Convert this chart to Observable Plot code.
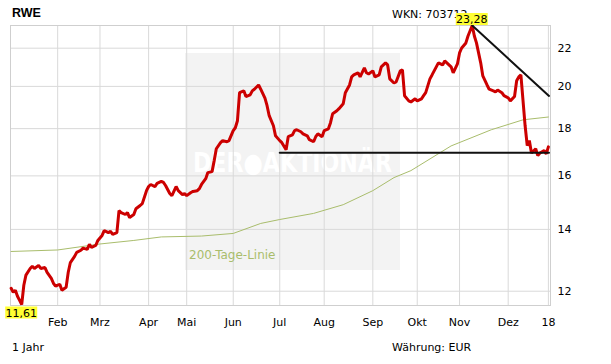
<!DOCTYPE html>
<html>
<head>
<meta charset="utf-8">
<script src="https://cdn.jsdelivr.net/npm/d3@7"></script>
<script src="https://cdn.jsdelivr.net/npm/@observablehq/plot@0.6"></script>
<style>
  body { margin: 0; background: #fff; }
  #wrap { position: relative; width: 611px; height: 364px; }
</style>
</head>
<body>
<div id="wrap"></div>
<script>
// ---- data (trading-day index since 2 Jan 2017) ----
const days = [0,1,2,3,4,5,6,7,9,10,11,13,14,16,17,19,20,21,23,24,26,27,28,30,31,33,34,36,37,38,40,41,43,44,46,47,48,50,51,52,54,55,56,58,59,61,62,64,65,66,68,69,71,72,73,75,76,78,79,81,82,83,85,86,88,89,90,92,93,95,96,97,99,100,102,103,105,106,107,108,110,111,113,114,115,117,118,120,121,122,124,125,127,128,130,131,133,134,135,137,138,140,141,143,144,145,147,148,150,151,152,154,155,157,158,160,161,162,164,165,167,168,169,171,172,174,175,177,178,179,181,182,184,185,186,188,189,191,192,194,195,196,198,199,201,202,204,205,206,208,209,211,212,213,215,216,218,219,220,222,223,225,226,228,229,230,232,233,235,236,238,239,240,241,243,244,245,246,248,249,250,252,253,254];
const closes = [12.09,11.97,12.03,11.85,11.73,11.61,12.18,12.49,12.70,12.77,12.70,12.80,12.70,12.73,12.58,12.39,12.24,12.15,12.21,12.03,12.12,12.58,12.89,13.09,13.22,13.29,13.36,13.32,13.49,13.39,13.45,13.62,13.79,13.96,13.89,13.93,13.83,13.89,14.67,14.60,14.53,14.60,14.42,14.53,14.74,14.86,14.93,15.42,15.58,15.66,15.58,15.70,15.78,15.74,15.62,15.31,15.23,15.58,15.42,15.27,15.31,15.23,15.35,15.39,15.42,15.50,15.66,15.89,16.13,16.17,16.62,17.12,17.38,17.47,17.42,17.47,17.91,18.04,18.36,19.69,19.78,19.50,19.58,19.78,19.86,20.07,19.86,19.42,19.06,18.59,18.13,17.68,17.47,17.38,17.08,17.64,17.72,17.91,17.95,17.86,17.77,17.68,17.51,17.42,17.64,17.77,17.64,17.91,17.99,18.27,18.68,18.82,18.92,19.15,19.69,20.07,20.48,20.58,20.69,20.48,20.94,20.69,20.63,20.79,20.48,20.58,21.00,21.21,21.10,20.38,20.17,20.22,20.79,20.84,19.54,19.29,19.24,19.39,19.29,19.39,19.54,19.69,20.38,20.58,21.00,21.21,21.10,21.31,21.21,21.00,20.69,21.15,21.74,22.01,22.29,22.68,23.28,22.68,22.29,21.21,20.53,20.07,19.86,19.78,19.73,19.82,19.69,19.54,19.44,19.29,19.50,20.28,20.48,20.58,18.13,17.25,17.47,16.94,17.12,16.83,16.94,17.04,16.90,17.20];

const maDays = [0,22,42,58,71,90,105,118,127,143,157,171,181,189,208,227,242,254];
const maValues = [13.25,13.30,13.50,13.62,13.74,13.77,13.86,14.21,14.35,14.57,14.89,15.42,15.93,16.21,17.24,17.95,18.40,18.53];

const supportDays = [127, 254.3];
const supportValues = [16.95, 16.95];
const trendDays = [218, 254.3];
const trendValues = [23.28, 19.53];

const monthTicks = [22,42,65,83,105,127,148,171,192,212,235,254];
const monthLabels = ["Feb","Mrz","Apr","Mai","Jun","Jul","Aug","Sep","Okt","Nov","Dez","18"];
const yTicks = [12,14,16,18,20,22];

const highDay = 218, highValue = 23.28;
const lowDay = 5, lowValue = 11.61;

const title = "RWE";
const wkn = "WKN: 703712";
const period = "1 Jahr";
const currency = "Währung: EUR";
const maLabel = "200-Tage-Linie";
const watermark = "DER●AKTIONÄR";

// ---- build tables ----
const price = days.map((d, i) => ({day: d, close: closes[i]}));
const ma = maDays.map((d, i) => ({day: d, value: maValues[i]}));
const support = supportDays.map((d, i) => ({day: d, value: supportValues[i]}));
const trend = trendDays.map((d, i) => ({day: d, value: trendValues[i]}));

const FONT = "DejaVu Sans, Verdana, sans-serif";

const chart = Plot.plot({
  width: 611,
  height: 364,
  marginTop: 25,
  marginBottom: 59,
  marginLeft: 10,
  marginRight: 61,
  style: {fontFamily: FONT, fontSize: "11px", color: "#000", background: "transparent", overflow: "visible"},
  x: {type: "linear", domain: [-0.3, 255], ticks: monthTicks,
      tickFormat: (d) => monthLabels[monthTicks.indexOf(d)],
      tickSize: 0, tickPadding: 13, label: null},
  y: {type: "log", domain: [11.58, 23.28], axis: "right", ticks: yTicks,
      tickFormat: (d) => String(d), tickSize: 0, tickPadding: 7, label: null},
  marks: [
    Plot.ruleY(yTicks, {stroke: "#d9d9d9", strokeWidth: 1}),
    Plot.ruleX(monthTicks, {stroke: "#d9d9d9", strokeWidth: 1}),
    Plot.frame({stroke: "#cfcfcf"}),
    Plot.line(ma, {x: "day", y: "value", stroke: "#a9bd6c", strokeWidth: 1}),
    Plot.line(price, {x: "day", y: "close", stroke: "#cc0000", strokeWidth: 3, strokeLinejoin: "miter"}),
    Plot.line(support, {x: "day", y: "value", stroke: "#111", strokeWidth: 2}),
    Plot.line(trend, {x: "day", y: "value", stroke: "#111", strokeWidth: 2})
  ]
});

document.getElementById("wrap").appendChild(chart);

const svg = d3.select(chart);
// watermark behind everything
const wm = svg.insert("g", ":first-child");
wm.append("rect").attr("x", 185).attr("y", 53).attr("width", 215).attr("height", 217).attr("fill", "#f3f3f3");
wm.append("text").attr("x", 193).attr("y", 172).attr("text-anchor", "start")
  .attr("textLength", 199).attr("lengthAdjust", "spacingAndGlyphs")
  .attr("font-family", FONT).attr("font-weight", "bold").attr("font-size", 27).attr("fill", "#ffffff").text(watermark);

const sx = chart.scale("x");
const fx = sx.apply ? (v) => sx.apply(v) : d3.scaleLinear(sx.domain, sx.range);

// MA label
svg.append("text").attr("x", 189).attr("y", 259).attr("text-anchor", "start")
  .attr("font-family", FONT).attr("font-size", 12)
  .attr("fill", "#a9bd6c").text(maLabel);

// high / low labels
function boxLabel(cx, top, s) {
  const g = svg.append("g");
  g.append("rect").attr("x", cx - 16).attr("y", top).attr("width", 32).attr("height", 12).attr("fill", "#ffff33");
  g.append("text").attr("x", cx).attr("y", top + 10).attr("text-anchor", "middle")
    .attr("font-family", FONT).attr("font-size", 11).attr("fill", "#000").text(s);
}

// header/footer texts
function txt(x, y, s, opts = {}) {
  svg.append("text").attr("x", x).attr("y", y).attr("text-anchor", "start")
    .attr("font-family", opts.family || FONT)
    .attr("font-size", opts.size || 11).attr("font-weight", opts.weight || "normal").attr("fill", "#000").text(s);
}
txt(12, 17, title, {family: "Liberation Sans, Arial, sans-serif", size: 12.5, weight: "bold"});
txt(392, 18, wkn);
txt(12, 351, period);
txt(392, 351, currency);

boxLabel(fx(highDay), 13, String(highValue).replace(".", ","));
boxLabel(fx(lowDay), 306.5, String(lowValue).replace(".", ","));
</script>
</body>
</html>
